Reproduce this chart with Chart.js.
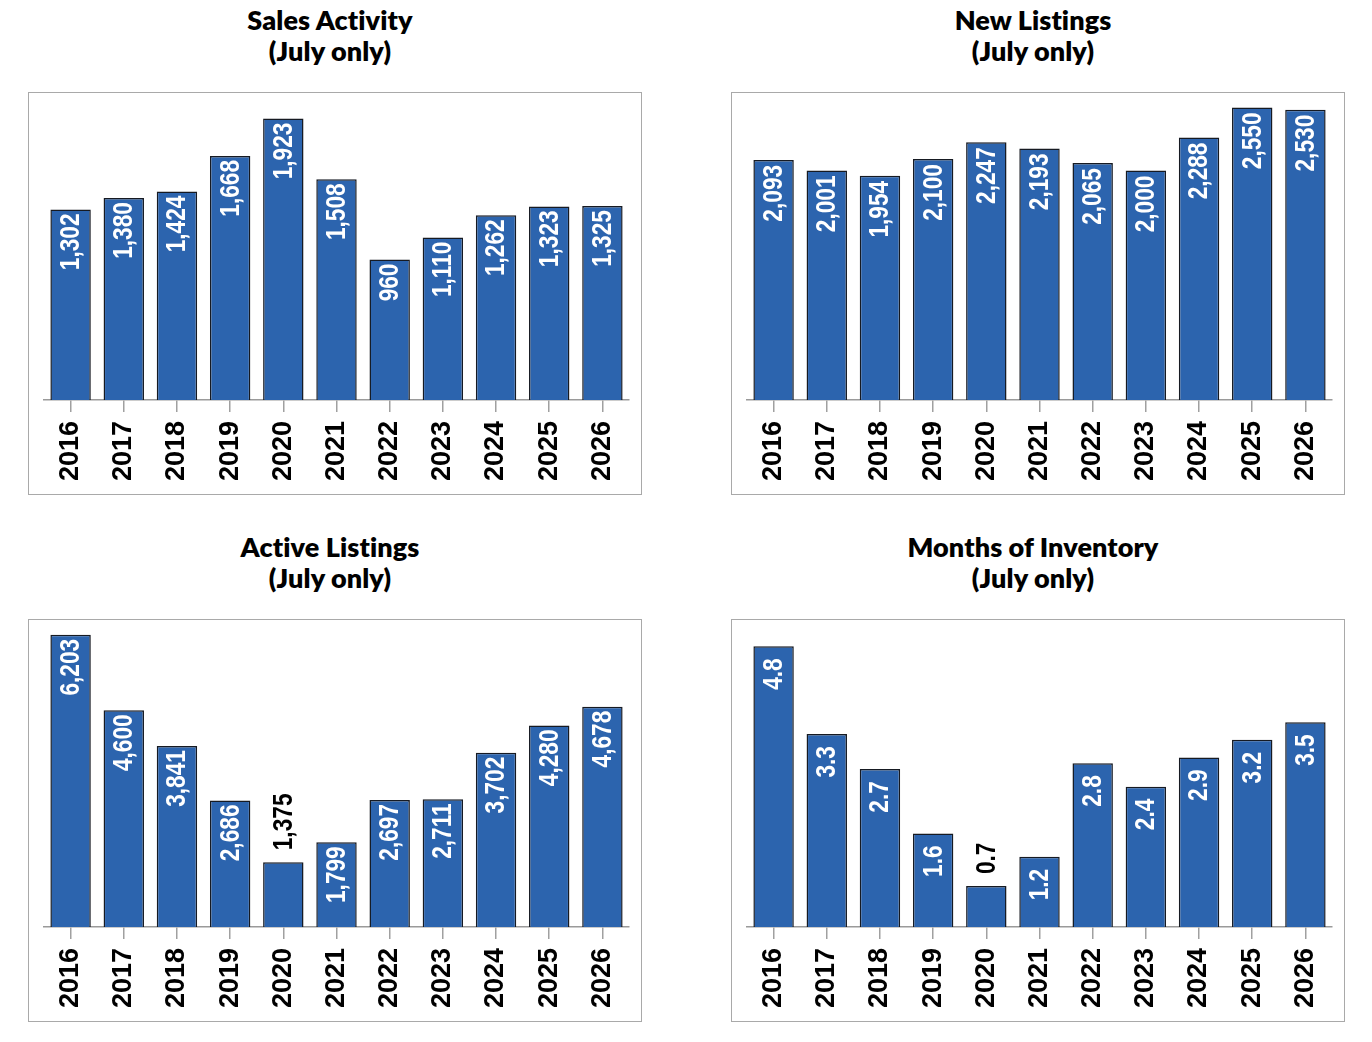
<!DOCTYPE html>
<html>
<head>
<meta charset="utf-8">
<script src="https://cdn.jsdelivr.net/npm/chart.js@4"></script>
<style>
  html, body { margin: 0; padding: 0; background: #fff; }
  body { width: 1372px; height: 1042px; position: relative; overflow: hidden; }
  .title { position: absolute; width: 614px; text-align: center; font-family: Lato, "Open Sans", sans-serif; font-weight: 800; font-size: 27px; line-height: 31px; color: #000; letter-spacing: 0.1px; }
  .box { position: absolute; width: 612px; height: 401px; border: 1px solid #a9a9a9; }
  .box canvas { display: block; }
</style>
</head>
<body>
<div class="title" style="left:23px;top:4px;">Sales Activity<br>(July only)</div>
<div class="title" style="left:726px;top:4px;">New Listings<br>(July only)</div>
<div class="title" style="left:23px;top:531px;">Active Listings<br>(July only)</div>
<div class="title" style="left:726px;top:531px;">Months of Inventory<br>(July only)</div>

<div class="box" style="left:28px;top:92px;"><canvas id="c0" width="612" height="401"></canvas></div>
<div class="box" style="left:731px;top:92px;"><canvas id="c1" width="612" height="401"></canvas></div>
<div class="box" style="left:28px;top:619px;"><canvas id="c2" width="612" height="401"></canvas></div>
<div class="box" style="left:731px;top:619px;"><canvas id="c3" width="612" height="401"></canvas></div>

<script>
// ---- Data ----
const years = ['2016','2017','2018','2019','2020','2021','2022','2023','2024','2025','2026'];
const salesActivity   = [1302, 1380, 1424, 1668, 1923, 1508, 960, 1110, 1262, 1323, 1325];
const newListings     = [2093, 2001, 1954, 2100, 2247, 2193, 2065, 2000, 2288, 2550, 2530];
const activeListings  = [6203, 4600, 3841, 2686, 1375, 1799, 2697, 2711, 3702, 4280, 4678];
const monthsInventory = [4.8, 3.3, 2.7, 1.6, 0.7, 1.2, 2.8, 2.4, 2.9, 3.2, 3.5];

// axis ranges
const axisMax = [2050, 2615, 6370, 5.13];

const BAR_COLOR = '#2c64ae';
const LABEL_FONT = 'bold 27px "Liberation Sans", Arial, sans-serif';
const LABEL_SQUEEZE = 0.84; // condensed look of the value labels

function fmtThousands(v) { return v.toLocaleString('en-US'); }
function fmtDecimal(v) { return v.toFixed(1); }

const valueLabelPlugin = {
  id: 'valueLabels',
  afterDatasetsDraw(chart, args, opts) {
    const ctx = chart.ctx;
    const ds = chart.data.datasets[0];
    const meta = chart.getDatasetMeta(0);
    ctx.save();
    ctx.font = LABEL_FONT;
    ctx.textBaseline = 'middle';
    meta.data.forEach((bar, i) => {
      const text = opts.format(ds.data[i]);
      const tw = ctx.measureText(text).width * LABEL_SQUEEZE;
      const h = bar.base - bar.y;
      ctx.save();
      if (tw + 20 <= h) {
        ctx.translate(bar.x, bar.y + opts.innerPad);
        ctx.rotate(-Math.PI / 2);
        ctx.scale(LABEL_SQUEEZE, 1);
        ctx.textAlign = 'right';
        ctx.fillStyle = '#ffffff';
      } else {
        ctx.translate(bar.x, bar.y - 12);
        ctx.rotate(-Math.PI / 2);
        ctx.scale(LABEL_SQUEEZE, 1);
        ctx.textAlign = 'left';
        ctx.fillStyle = '#000000';
      }
      ctx.fillText(text, 0, 1);
      ctx.restore();
    });
    ctx.restore();
  }
};

function makeChart(id, values, yMax, format, innerPad) {
  return new Chart(document.getElementById(id), {
    type: 'bar',
    data: {
      labels: years,
      datasets: [{
        data: values,
        backgroundColor: BAR_COLOR,
        borderColor: '#161a22',
        borderWidth: 1.5,
        barPercentage: 0.76,
        categoryPercentage: 1.0
      }]
    },
    options: {
      responsive: false,
      animation: false,
      devicePixelRatio: 1,
      layout: { padding: { top: 7, left: 15, right: 12, bottom: 0 } },
      plugins: {
        legend: { display: false },
        tooltip: { enabled: false },
        title: { display: false },
        valueLabels: { format: format, innerPad: innerPad }
      },
      scales: {
        x: {
          afterFit(scale) { scale.height = 94; scale.paddingLeft = 0; scale.paddingRight = 0; },
          grid: { display: true, drawOnChartArea: false, drawTicks: true, tickLength: 12, offset: false, color: '#a0a0a0', lineWidth: 1.5 },
          border: { display: true, color: '#9a9a9a', width: 1.5 },
          ticks: {
            minRotation: 90, maxRotation: 90, autoSkip: false, padding: 9,
            color: '#000',
            font: { family: '"Liberation Sans", Arial, sans-serif', weight: 'bold', size: 27 }
          }
        },
        y: { display: false, min: 0, max: yMax }
      }
    },
    plugins: [valueLabelPlugin]
  });
}

makeChart('c0', salesActivity, axisMax[0], fmtThousands, 4);
makeChart('c1', newListings, axisMax[1], fmtThousands, 5);
makeChart('c2', activeListings, axisMax[2], fmtThousands, 4);
makeChart('c3', monthsInventory, axisMax[3], fmtDecimal, 12);
</script>
</body>
</html>
